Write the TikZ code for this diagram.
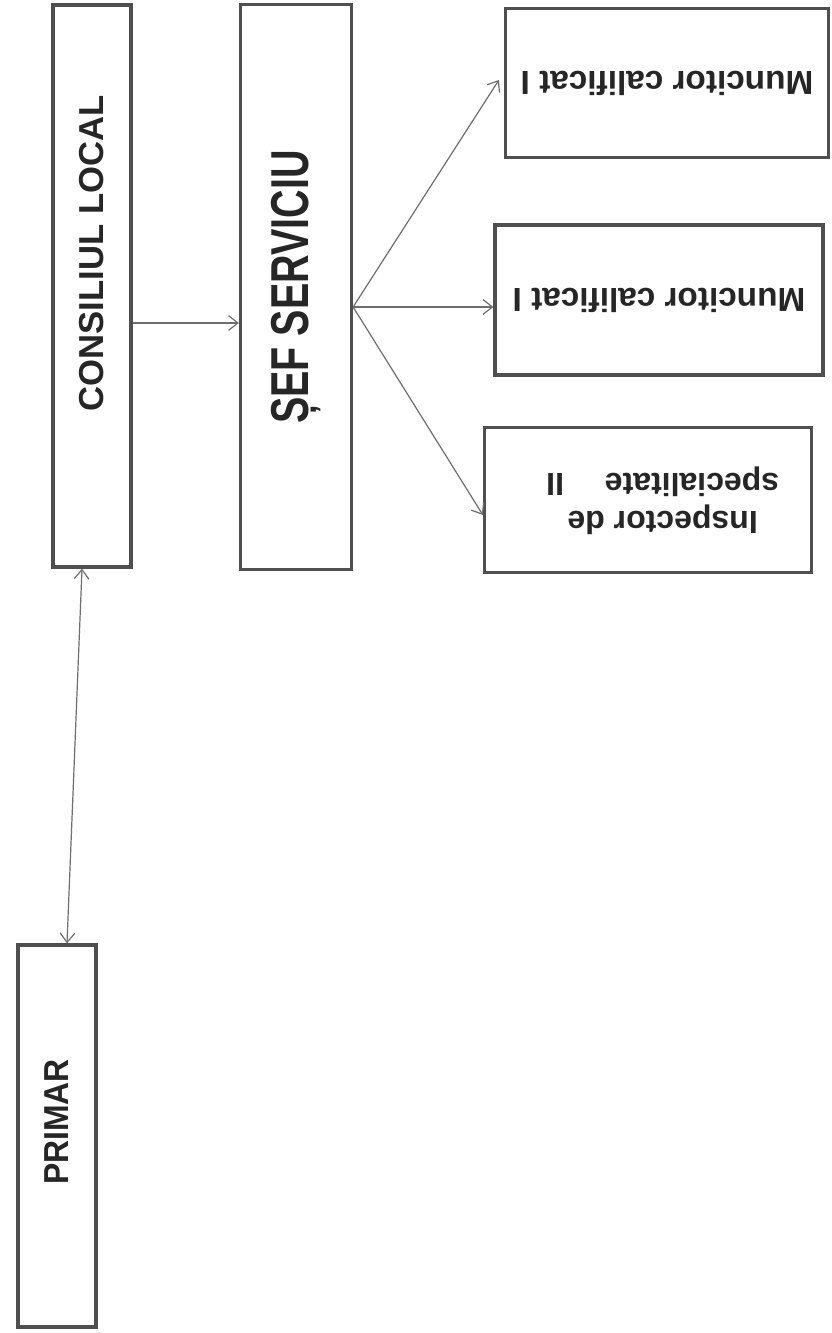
\documentclass[tikz,border=0pt]{standalone}
\usepackage{fontspec}
\setmainfont{Liberation Sans}
\usepackage{graphicx}
\usetikzlibrary{arrows.meta,positioning,calc}
\definecolor{ink}{HTML}{262626}
\definecolor{frame}{HTML}{4F4F4F}
\definecolor{wire}{HTML}{6E6E6E}
\tikzset{
  orgbox/.style={draw=frame,fill=white,line width=2.4pt,
                 inner sep=0pt,align=center,text=ink,font=\bfseries},
  tallbox/.style={orgbox,font=\fontsize{26}{30}\selectfont\bfseries},
  jobbox/.style={orgbox,font=\fontsize{25}{28.5}\selectfont\bfseries},
  linkarr/.style={-{Straight Barb[length=7pt,width=11pt]},line width=0.9pt,color=wire},
  duoarr/.style={{Straight Barb[length=7pt,width=11pt]}-{Straight Barb[length=7pt,width=11pt]},
                 line width=0.9pt,color=wire}
}

\begin{document}
\begin{tikzpicture}[x=0.75pt,y=0.75pt]
  \fill[white] (0,0) rectangle (831,-1333);
  \useasboundingbox (0,0) rectangle (831,-1333);
  % left column
  \node[tallbox,minimum width=58.5pt,minimum height=421.5pt] (consiliul) at (92,-286)
    {\rotatebox{90}{\hspace*{49pt}CONSILIUL LOCAL}};
  \node[tallbox,minimum width=58.5pt,minimum height=286.5pt] (primar) at (57,-1136)
    {\rotatebox{90}{\hspace*{21pt}\scalebox{0.92}[1]{PRIMAR}}};
  \node[orgbox,font=\fontsize{40}{44}\selectfont\bfseries,
        minimum width=83.25pt,minimum height=423.75pt] (sef) at (296,-287)
    {\rotatebox{90}{\scalebox{0.74}[1]{ȘEF SERVICIU}}};
  % staff
  \node[jobbox,minimum width=242.25pt,minimum height=111.75pt] (munc1) at (667,-83)
    {\rotatebox{180}{Muncitor calificat I}};
  \node[jobbox,minimum width=246pt,minimum height=112.5pt] (munc2) at (659,-300)
    {\rotatebox{180}{Muncitor calificat I}};
  \node[jobbox,font=\fontsize{24}{28.5}\selectfont\bfseries,
        minimum width=245.25pt,minimum height=108.75pt] (insp) at (648,-500)
    {\rotatebox{180}{\begin{tabular}{@{}c@{}}Inspector de\\ specialitate\quad\ II\end{tabular}\hspace*{22pt}}};
  % links
  \draw[duoarr] ($(consiliul.south)+(-10,0)$) -- ($(primar.north)+(10,0)$);
  \draw[linkarr] ($(consiliul.east)+(0,-37)$) -- ($(sef.west)+(0,-36)$);
  \coordinate (fan) at ($(sef.east)+(0,-20)$);
  \draw[linkarr] (fan) -- ($(munc1.west)+(-5,3)$);
  \draw[linkarr] (fan) -- ($(munc2.west)+(0,-7)$);
  \draw[linkarr] (fan) -- ($(insp.west)+(0,-15)$);
\end{tikzpicture}
\end{document}
